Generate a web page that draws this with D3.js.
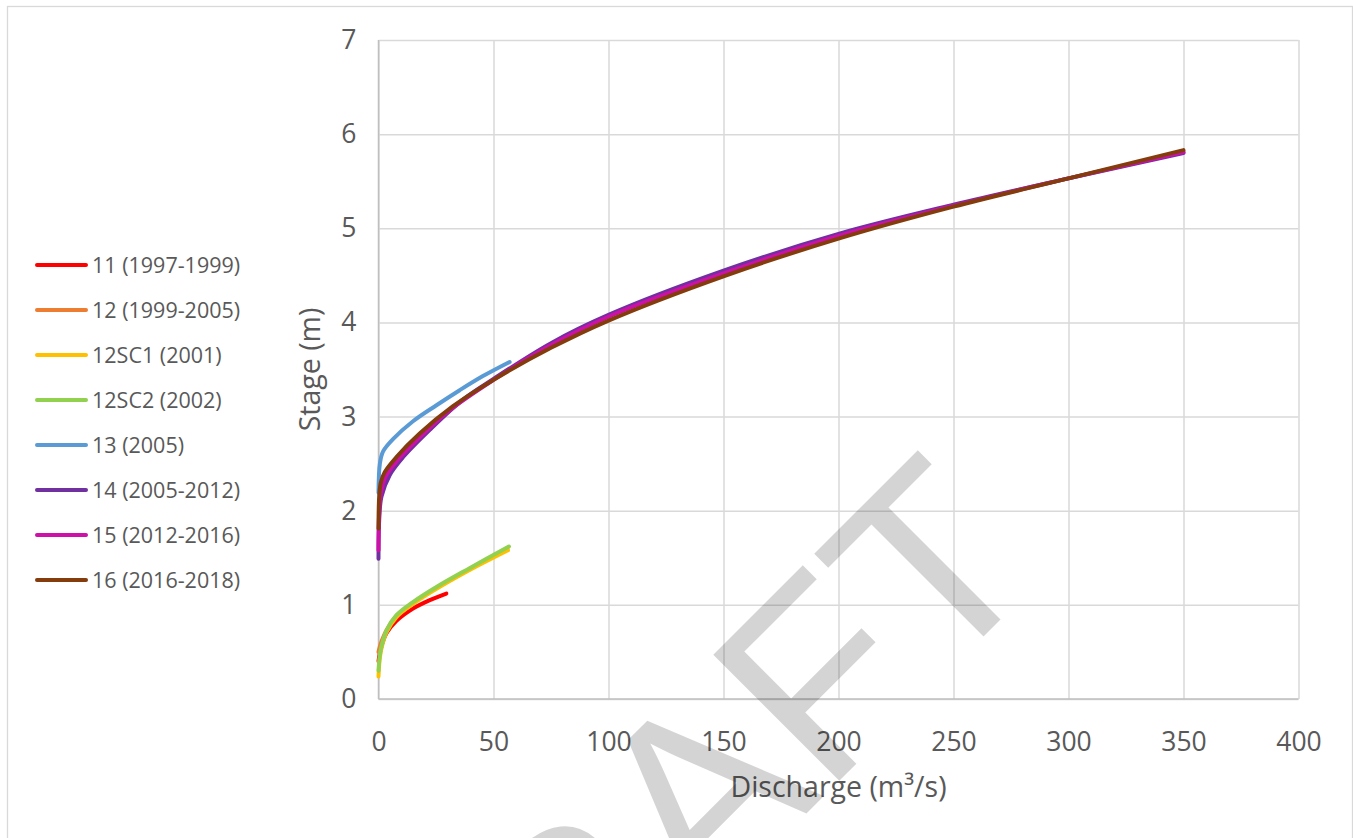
<!DOCTYPE html>
<html>
<head>
<meta charset="utf-8">
<script src="https://cdn.jsdelivr.net/npm/d3@7"></script>
<style>
  body { margin: 0; background: #fff; }
  svg text { font-family: "Open Sans", sans-serif; fill: #595959; }
</style>
</head>
<body>
<div id="chart"></div>
<script>
// rating curves, discharge (m3/s) vs stage (m)
var q11 = [0, 0.5, 1.3, 3.5, 7.8, 15, 22.3, 29.5];
var h11 = [0.40, 0.48, 0.56, 0.70, 0.83, 0.96, 1.05, 1.12];

var q12 = [0, 0.5, 1.3, 3.5, 7.8, 15, 25.2, 39.6, 56];
var h12 = [0.50, 0.55, 0.61, 0.73, 0.88, 1.02, 1.18, 1.38, 1.60];

var q12sc1 = [0, 0.5, 1.3, 3.5, 7.8, 15, 25.2, 39.6, 56.3];
var h12sc1 = [0.24, 0.42, 0.54, 0.71, 0.87, 1.01, 1.17, 1.37, 1.58];

var q12sc2 = [0, 0.5, 1.3, 3.5, 7.8, 15, 25.2, 39.6, 56.7];
var h12sc2 = [0.30, 0.45, 0.56, 0.73, 0.89, 1.03, 1.19, 1.39, 1.62];

var q13 = [0, 0.6, 2, 6.3, 15, 25.2, 35.3, 45.4, 57];
var h13 = [2.19, 2.50, 2.63, 2.76, 2.95, 3.12, 3.28, 3.43, 3.58];

var q14 = [0, 0.3, 1.3, 4.9, 10.7, 22.3, 36.7, 50, 75, 100, 150, 200, 250, 300, 350];
var h14 = [1.49, 1.90, 2.15, 2.38, 2.57, 2.86, 3.18, 3.40, 3.78, 4.08, 4.55, 4.94, 5.25, 5.53, 5.80];

var q15 = [0, 0.3, 1, 3, 8, 15, 30, 50, 75, 100, 150, 200, 250, 300, 350];
var h15 = [1.58, 1.98, 2.18, 2.36, 2.53, 2.71, 3.05, 3.39, 3.76, 4.06, 4.52, 4.92, 5.24, 5.53, 5.81];

var q16 = [0, 0.3, 1, 2.7, 7.8, 17.9, 32.4, 50, 75, 100, 150, 200, 250, 300, 350];
var h16 = [1.81, 2.15, 2.30, 2.41, 2.57, 2.82, 3.11, 3.39, 3.73, 4.02, 4.49, 4.89, 5.23, 5.53, 5.83];

var series_names = ["11 (1997-1999)", "12 (1999-2005)", "12SC1 (2001)", "12SC2 (2002)",
                    "13 (2005)", "14 (2005-2012)", "15 (2012-2016)", "16 (2016-2018)"];
var series_colors = ["#ff0000", "#ed7d31", "#ffc000", "#92d050",
                     "#5b9bd5", "#7030a0", "#cc10a8", "#843c0c"];
var series_q = [q11, q12, q12sc1, q12sc2, q13, q14, q15, q16];
var series_h = [h11, h12, h12sc1, h12sc2, h13, h14, h15, h16];

var x_ticks = [0, 50, 100, 150, 200, 250, 300, 350, 400];
var y_ticks = [0, 1, 2, 3, 4, 5, 6, 7];

var x_title = "Discharge (m\u00b3/s)";
var y_title = "Stage (m)";
var watermark = "DRAFT";

var W = 1353, H = 838;
var plot = {left: 378.5, right: 1298.5, top: 40, bottom: 699};

var svg = d3.select("#chart").append("svg")
    .attr("width", W).attr("height", H);

// chart border
svg.append("rect")
    .attr("x", 7.5).attr("y", 6.5)
    .attr("width", 1345).attr("height", 845)
    .attr("fill", "none").attr("stroke", "#d9d9d9").attr("stroke-width", 1.3);

var scale_x = d3.scaleLinear().domain([0, 400]).range([plot.left, plot.right]);
var scale_y = d3.scaleLinear().domain([0, 7]).range([plot.bottom, plot.top]);

// axes with gridlines
var x_axis = svg.append("g")
    .attr("transform", "translate(0," + plot.bottom + ")")
    .call(d3.axisBottom(scale_x).tickValues(x_ticks).tickFormat(d3.format("d"))
        .tickSize(-(plot.bottom - plot.top)).tickPadding(33));

var y_axis = svg.append("g")
    .attr("transform", "translate(" + plot.left + ",0)")
    .call(d3.axisLeft(scale_y).tickValues(y_ticks).tickFormat(d3.format("d"))
        .tickSize(-(plot.right - plot.left)).tickPadding(22));

[x_axis, y_axis].forEach(function(ax) {
  ax.select(".domain").remove();
  ax.selectAll(".tick line").attr("stroke", "#d9d9d9").attr("stroke-width", 1.5);
  ax.selectAll(".tick text")
      .style("font-size", "26.5px")
      .attr("fill", "#595959");
});
x_axis.selectAll(".tick text").attr("dy", "0.72em");

// base lines of the plot area
svg.append("line")
    .attr("x1", plot.left).attr("x2", plot.right)
    .attr("y1", plot.bottom).attr("y2", plot.bottom)
    .attr("stroke", "#bfbfbf").attr("stroke-width", 1.5);
svg.append("line")
    .attr("x1", plot.left).attr("x2", plot.left)
    .attr("y1", plot.top).attr("y2", plot.bottom)
    .attr("stroke", "#bfbfbf").attr("stroke-width", 1.5);

// axis titles
svg.append("text")
    .attr("x", (plot.left + plot.right) / 2).attr("y", 797)
    .attr("text-anchor", "middle")
    .style("font-size", "28.5px")
    .text(x_title);

svg.append("text")
    .attr("transform", "translate(320," + ((plot.top + plot.bottom) / 2) + ") rotate(-90)")
    .attr("text-anchor", "middle")
    .style("font-size", "28.5px")
    .text(y_title);

// curves, smoothed like the spreadsheet's scatter lines
var line = d3.line()
    .x(function(d) { return scale_x(d[0]); })
    .y(function(d) { return scale_y(d[1]); })
    .curve(d3.curveCatmullRom.alpha(0.5));

var curves = svg.append("g");
for (var i = 0; i < series_names.length; i++) {
  curves.append("path")
      .datum(d3.zip(series_q[i], series_h[i]))
      .attr("d", line)
      .attr("fill", "none")
      .attr("stroke", series_colors[i])
      .attr("stroke-width", 4)
      .attr("stroke-linecap", "round")
      .attr("stroke-linejoin", "round");
}

// legend
var legend = svg.append("g");
series_names.forEach(function(name, i) {
  var y = 265 + i * 45;
  legend.append("line")
      .attr("x1", 37).attr("x2", 86)
      .attr("y1", y).attr("y2", y)
      .attr("stroke", series_colors[i])
      .attr("stroke-width", 4)
      .attr("stroke-linecap", "round");
  legend.append("text")
      .attr("x", 92).attr("y", y)
      .attr("dy", "0.35em")
      .style("font-size", "21.5px")
      .text(name);
});

// watermark
svg.append("text")
    .attr("transform", "translate(1048,572) rotate(-45)")
    .attr("text-anchor", "end")
    .style("font-family", "'Liberation Sans', Arial, sans-serif")
    .style("font-size", "259px")
    .style("fill", "#000")
    .style("fill-opacity", 0.17)
    .text(watermark);
</script>
</body>
</html>
